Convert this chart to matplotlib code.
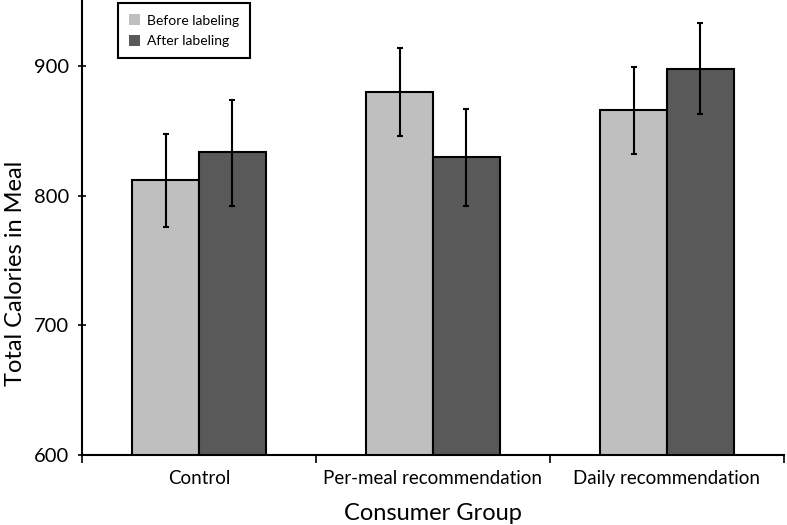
import matplotlib
matplotlib.use("Agg")
import matplotlib.pyplot as plt
import numpy as np

groups = ["Control", "Per-meal recommendation", "Daily recommendation"]
before = [812, 880, 866]
before_lo = [776, 846, 832]
before_hi = [848, 914, 899]
after = [834, 830, 898]
after_lo = [792, 792, 863]
after_hi = [874, 867, 933]

plt.rcParams['font.family'] = ['Lato', 'DejaVu Sans']

fig = plt.figure(figsize=(7.87, 5.25), dpi=100)
ax = fig.add_axes([0.104, 0.133, 0.892, 0.867])

x = np.arange(len(groups))
w = 0.285
err_b = [np.array(before) - np.array(before_lo), np.array(before_hi) - np.array(before)]
err_a = [np.array(after) - np.array(after_lo), np.array(after_hi) - np.array(after)]
ekw = dict(elinewidth=1.5, capthick=1.5)
ax.bar(x - w / 2, before, w, color="#bfbfbf", edgecolor="black", linewidth=1.5,
       yerr=err_b, capsize=2.5, error_kw=ekw, label="Before labeling", zorder=2)
ax.bar(x + w / 2, after, w, color="#595959", edgecolor="black", linewidth=1.5,
       yerr=err_a, capsize=2.5, error_kw=ekw, label="After labeling", zorder=2)

ax.set_ylim(600, 951)
ax.set_xlim(-0.5, 2.5)
ax.set_yticks([600, 700, 800, 900])
ax.set_xticks(x)
ax.set_xticklabels(groups, fontsize=13.5)
ax.set_xticks([-0.5, 0.5, 1.5, 2.5], minor=True)
ax.tick_params(axis="x", which="major", length=0, pad=11)
ax.tick_params(axis="x", which="minor", length=6, width=1.2, direction="out")
ax.tick_params(axis="y", labelsize=14.5, length=6, width=1.2, direction="inout", pad=6)
for s in ["top", "right"]:
    ax.spines[s].set_visible(False)
for s in ["left", "bottom"]:
    ax.spines[s].set_linewidth(1.5)

ax.set_ylabel("Total Calories in Meal", fontsize=17)
ax.yaxis.set_label_coords(-0.080, 0.40)
ax.set_xlabel("Consumer Group", fontsize=17, labelpad=11)

leg = ax.legend(loc="upper left", bbox_to_anchor=(0.041, 1.008), fontsize=10,
                fancybox=False, edgecolor="black", framealpha=1,
                handlelength=0.8, handleheight=0.8, borderpad=0.8, labelspacing=0.6,
                handletextpad=0.5)
leg.get_frame().set_linewidth(1.5)
for h in leg.legend_handles:
    h.set_edgecolor("none")

fig.savefig("out.png", dpi=100)
